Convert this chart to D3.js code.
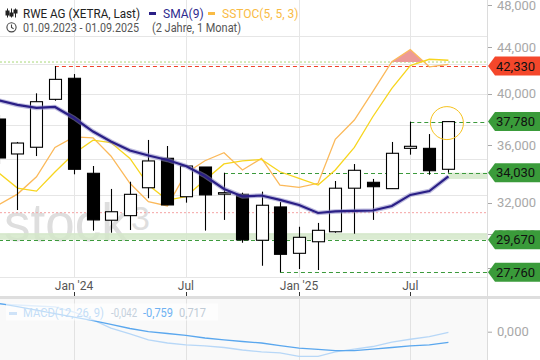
<!DOCTYPE html>
<html>
<head>
<meta charset="utf-8">
<script src="https://cdn.jsdelivr.net/npm/d3@7"></script>
<style>
  body { margin: 0; background: #fff; }
  svg { display: block; font-family: Roboto, Arial, sans-serif; }
</style>
</head>
<body>
<svg id="chart" width="540" height="360"></svg>
<script>
// RWE AG (XETRA, Last), monthly candles, prices in EUR
const months = ["2023-09", "2023-10", "2023-11", "2023-12", "2024-01", "2024-02", "2024-03", "2024-04",
  "2024-05", "2024-06", "2024-07", "2024-08", "2024-09", "2024-10", "2024-11", "2024-12", "2025-01",
  "2025-02", "2025-03", "2025-04", "2025-05", "2025-06", "2025-07", "2025-08", "2025-09"];
const opens  = [37.98, 35.36, 35.85, 39.54, 41.28, 33.99, 30.88, 31.17, 33.00, 35.05, 32.40, 34.43, 32.65,
  32.56, 29.64, 31.73, 28.86, 29.55, 30.16, 32.97, 33.37, 32.94, 35.77, 35.77, 34.27];
const highs  = [38.30, 36.24, 40.03, 42.33, 41.64, 34.50, 32.92, 33.41, 36.39, 35.94, 34.50, 34.43, 34.03,
  32.67, 32.74, 32.05, 30.47, 30.71, 33.46, 34.64, 33.60, 36.24, 37.78, 36.83, 37.80];
const lows   = [34.64, 31.53, 35.21, 39.43, 33.92, 30.23, 30.10, 30.27, 32.30, 31.86, 32.01, 30.23, 30.90,
  29.49, 28.14, 27.76, 27.95, 27.89, 30.10, 30.04, 30.90, 32.94, 35.31, 33.89, 34.03];
const closes = [35.07, 36.16, 39.35, 41.19, 34.27, 30.90, 31.42, 32.56, 34.86, 31.86, 34.50, 32.52, 32.67,
  29.66, 31.84, 28.80, 29.82, 30.25, 32.97, 34.20, 33.07, 35.41, 35.92, 34.17, 37.78];

const sma9 = [39.45, 39.09, 38.85, 38.93, 38.06, 37.02, 36.27, 35.61, 35.25, 34.93, 34.50, 33.80, 32.92,
  32.42, 32.48, 32.19, 31.86, 31.34, 31.44, 31.47, 31.50, 31.79, 32.52, 32.78, 33.77];

// SSTOC(5, 5, 3)
const stochK = [23.2, 27.4, 34.3, 46.0, 50.2, 49.8, 42.6, 31.7, 24.4, 22.7, 35.7, 40.7, 43.9, 37.0, 41.6,
  31.0, 30.1, 31.7, 49.2, 56.9, 68.2, 80.1, 85.0, 78.1, 79.1];
const stochD = [35.8, 29.8, 28.6, 36.2, 43.6, 48.9, 47.9, 41.6, 31.0, 25.0, 26.4, 33.0, 39.4, 40.6, 41.2,
  36.3, 33.7, 31.0, 37.0, 46.0, 58.2, 69.5, 78.6, 81.1, 80.7];
const stochLevels = [80, 20];

// MACD(12, 26, 9)
const macdLine = [1.98, 1.91, 1.84, 1.77, 1.41, 0.84, 0.26, -0.16, -0.59, -0.81, -0.95, -1.02, -1.13,
  -1.31, -1.45, -1.52, -1.77, -1.77, -1.45, -1.24, -1.06, -0.74, -0.54, -0.36, -0.042];
const macdSignal = [2.02, 1.80, 1.55, 1.30, 1.05, 0.80, 0.52, 0.23, 0.01, -0.13, -0.27, -0.45, -0.59,
  -0.70, -0.81, -0.99, -1.17, -1.27, -1.35, -1.35, -1.24, -1.13, -1.02, -0.95, -0.759];
const macdHist = 0.717;

// marked levels and zones
const levels = [42.33, 37.78, 34.03, 29.67, 27.76];
const levelFrom = ["2023-12", "2025-07", "2024-09", "2023-09", "2024-12"];
const zoneLow = [29.67, 33.60];
const zoneHigh = [30.08, 34.03];
const zoneFrom = ["2023-09", "2025-09"];

const priceTicks = [48, 44, 40, 36, 32, 30, 28];
const priceGrid = [27.5, 30, 32.5, 35, 37.5, 40, 42.5, 45];
const xTickDates = ["2024-01", "2024-07", "2025-01", "2025-07"];
const xTickLabels = ["Jan '24", "Jul", "Jan '25", "Jul"];

const parseMonth = d3.utcParse("%Y-%m");
const de = d3.formatLocale({ decimal: ",", thousands: ".", grouping: [3], currency: ["", " €"], minus: "-" });
const fmt3 = de.format(".3f");

const svg = d3.select("#chart");
const plotRight = 487;
const plotBottom = 277.5;

const x = d3.scaleUtc()
  .domain([parseMonth("2024-01"), parseMonth("2025-07")])
  .range([74, 410.3]);
const y = d3.scaleLog().domain([26.447, 48.447]).range([296, 0]);
const yStoch = d3.scaleLinear().domain([0, 100]).range([262.9, 11.8]);
const yMacd = d3.scaleLinear().domain([-2, 2]).range([359.64, 303.76]);

const candles = months.map((m, i) => ({
  date: parseMonth(m), o: opens[i], h: highs[i], l: lows[i], c: closes[i]
}));

const defs = svg.append("defs");
defs.append("clipPath").attr("id", "plot-clip")
  .append("rect").attr("x", 0).attr("y", 0).attr("width", plotRight).attr("height", plotBottom);
defs.append("clipPath").attr("id", "over80")
  .append("rect").attr("x", 0).attr("y", 0).attr("width", plotRight).attr("height", yStoch(80));
defs.append("clipPath").attr("id", "macd-clip")
  .append("rect").attr("x", 0).attr("y", 299).attr("width", plotRight).attr("height", 61);

// ---- grid ----
const grid = svg.append("g");
grid.selectAll(".hgrid")
  .data(priceGrid)
  .enter()
  .append("line")
  .attr("x1", 0).attr("x2", plotRight)
  .attr("y1", d => Math.round(y(d)) + 0.5).attr("y2", d => Math.round(y(d)) + 0.5)
  .attr("stroke", "#e6e6e6");
grid.selectAll(".vgrid")
  .data(xTickDates)
  .enter()
  .append("line")
  .attr("x1", d => Math.round(x(parseMonth(d))) + 0.5)
  .attr("x2", d => Math.round(x(parseMonth(d))) + 0.5)
  .attr("y1", 0).attr("y2", plotBottom)
  .attr("stroke", "#e6e6e6");

// watermark
const wm = svg.append("g").attr("fill", "#dedede").attr("font-family", "Arial, 'Liberation Sans', sans-serif");
wm.append("text").attr("x", 4).attr("y", 241).attr("font-size", 53).text("stock");
wm.append("text").attr("x", 131).attr("y", 230).attr("font-size", 34).text("3");

const plot = svg.append("g").attr("clip-path", "url(#plot-clip)");

// zones
plot.selectAll(".zone")
  .data(zoneLow)
  .enter()
  .append("rect")
  .attr("x", (d, i) => x(parseMonth(zoneFrom[i])))
  .attr("width", (d, i) => plotRight - x(parseMonth(zoneFrom[i])))
  .attr("y", (d, i) => y(zoneHigh[i]))
  .attr("height", (d, i) => y(d) - y(zoneHigh[i]))
  .attr("fill", "#d3e8c9")
  .attr("opacity", 0.85);

// stochastic levels
plot.selectAll(".stlevel")
  .data(stochLevels)
  .enter()
  .append("line")
  .attr("x1", 0).attr("x2", plotRight)
  .attr("y1", d => yStoch(d)).attr("y2", d => yStoch(d))
  .attr("stroke", d => (d === 80 ? "#a8d878" : "#f5a3a3"))
  .attr("stroke-dasharray", "2,2");

// level lines
plot.selectAll(".level")
  .data(levels)
  .enter()
  .append("line")
  .attr("x1", (d, i) => x(parseMonth(levelFrom[i])))
  .attr("x2", plotRight)
  .attr("y1", d => Math.round(y(d)) + 0.5).attr("y2", d => Math.round(y(d)) + 0.5)
  .attr("stroke", (d, i) => (i === 0 ? "#f0432c" : "#3c9a3c"))
  .attr("stroke-dasharray", "4,3");

// stochastic over 80 fill
const stData = candles.map((c, i) => ({ date: c.date, k: stochK[i], d: stochD[i] }));
plot.append("path")
  .datum(stData)
  .attr("clip-path", "url(#over80)")
  .attr("fill", "#ec9a98")
  .attr("d", d3.area().x(d => x(d.date)).y0(yStoch(80)).y1(d => yStoch(d.k)));

plot.append("path")
  .datum(stData)
  .attr("fill", "none")
  .attr("stroke", "#fbb95a")
  .attr("stroke-width", 1.3)
  .attr("d", d3.line().x(d => x(d.date)).y(d => yStoch(d.k)));
plot.append("path")
  .datum(stData)
  .attr("fill", "none")
  .attr("stroke", "#f7d51e")
  .attr("stroke-width", 1.3)
  .attr("d", d3.line().x(d => x(d.date)).y(d => yStoch(d.d)));

// candles
const candle = plot.selectAll(".candle")
  .data(candles)
  .enter()
  .append("g")
  .attr("class", "candle")
  .attr("transform", d => `translate(${Math.round(x(d.date)) + 0.5},0)`);
candle.append("line")
  .attr("y1", d => y(d.h)).attr("y2", d => y(d.l))
  .attr("stroke", "#000").attr("stroke-width", 1.1);
candle.append("rect")
  .attr("x", -6).attr("width", 12)
  .attr("y", d => y(Math.max(d.o, d.c)))
  .attr("height", d => Math.max(1.5, Math.abs(y(d.o) - y(d.c))))
  .attr("fill", d => (d.c >= d.o ? "#fff" : "#000"))
  .attr("stroke", "#000").attr("stroke-width", 1.1);

// SMA(9)
const smaLine = d3.line().x((d, i) => x(candles[i].date)).y(d => y(d));
plot.append("path").datum(sma9)
  .attr("fill", "none").attr("stroke", "#8a86c4").attr("stroke-opacity", 0.55)
  .attr("stroke-width", 4.5).attr("d", smaLine);
plot.append("path").datum(sma9)
  .attr("fill", "none").attr("stroke", "#2a1f86")
  .attr("stroke-width", 2.2).attr("d", smaLine);

// highlight of last close
const last = candles[candles.length - 1];
plot.append("circle")
  .attr("cx", x(last.date) - 1.5).attr("cy", y(last.c) + 1.5).attr("r", 16.5)
  .attr("fill", "none").attr("stroke", "#f6c21d").attr("stroke-width", 1);

// ---- x axis ----
const xAxis = svg.append("g");
xAxis.selectAll(".xlabel")
  .data(xTickDates)
  .enter()
  .append("text")
  .attr("x", d => x(parseMonth(d)))
  .attr("y", 289.5)
  .attr("text-anchor", "middle")
  .attr("font-size", 12)
  .attr("fill", "#555")
  .text((d, i) => xTickLabels[i]);
xAxis.selectAll(".xtick")
  .data(xTickDates)
  .enter()
  .append("line")
  .attr("x1", d => Math.round(x(parseMonth(d))) + 0.5)
  .attr("x2", d => Math.round(x(parseMonth(d))) + 0.5)
  .attr("y1", 292).attr("y2", 296)
  .attr("stroke", "#333");

// ---- MACD panel ----
svg.append("rect").attr("x", 0).attr("y", 299).attr("width", plotRight).attr("height", 61).attr("fill", "#f9f9f9");
svg.selectAll(".mvgrid")
  .data(xTickDates)
  .enter()
  .append("line")
  .attr("x1", d => Math.round(x(parseMonth(d))) + 0.5)
  .attr("x2", d => Math.round(x(parseMonth(d))) + 0.5)
  .attr("y1", 299).attr("y2", 360)
  .attr("stroke", "#e2e2e2");
const macdG = svg.append("g").attr("clip-path", "url(#macd-clip)");
const mLine = d3.line().x((d, i) => x(candles[i].date)).y(d => yMacd(d));
macdG.append("path").datum(macdLine)
  .attr("fill", "none").attr("stroke", "#b7d7f7").attr("stroke-width", 1.3).attr("d", mLine);
macdG.append("path").datum(macdSignal)
  .attr("fill", "none").attr("stroke", "#5aa7ee").attr("stroke-width", 1.3).attr("d", mLine);

const macdLegend = svg.append("g").attr("font-size", 12);
macdLegend.append("rect").attr("x", 6).attr("y", 303.5).attr("width", 212).attr("height", 17)
  .attr("fill", "#fff").attr("opacity", 0.6);
macdLegend.append("rect").attr("x", 9).attr("y", 312).attr("width", 8).attr("height", 3).attr("fill", "#cfe3f8");
macdLegend.append("text").attr("x", 23).attr("y", 316.5).attr("fill", "#c4ddf7")
  .attr("textLength", 81).attr("lengthAdjust", "spacingAndGlyphs").text("MACD(12, 26, 9)");
macdLegend.append("text").attr("x", 111).attr("y", 316.5).attr("fill", "#c4d0dc")
  .attr("textLength", 26).attr("lengthAdjust", "spacingAndGlyphs")
  .text(fmt3(macdLine[macdLine.length - 1]));
macdLegend.append("text").attr("x", 143).attr("y", 316.5).attr("fill", "#6fb2f2")
  .attr("textLength", 30).attr("lengthAdjust", "spacingAndGlyphs")
  .text(fmt3(macdSignal[macdSignal.length - 1]));
macdLegend.append("text").attr("x", 179).attr("y", 316.5).attr("fill", "#c0cbd6")
  .attr("textLength", 27).attr("lengthAdjust", "spacingAndGlyphs").text(fmt3(macdHist));

// separator and right axis line
svg.append("rect").attr("x", 0).attr("y", 296).attr("width", 540).attr("height", 3).attr("fill", "#dedede");
svg.append("line").attr("x1", plotRight + 0.5).attr("x2", plotRight + 0.5).attr("y1", 0).attr("y2", 360)
  .attr("stroke", "#dcdcdc");

// ---- right axis ----
const yAxis = svg.append("g").attr("font-size", 13).attr("fill", "#a8a8a8");
yAxis.selectAll(".ytick")
  .data(priceTicks)
  .enter()
  .append("line")
  .attr("x1", 488).attr("x2", 492)
  .attr("y1", d => Math.round(y(d)) + 0.5).attr("y2", d => Math.round(y(d)) + 0.5)
  .attr("stroke", "#a8a8a8");
yAxis.selectAll(".ylabel")
  .data(priceTicks)
  .enter()
  .append("text")
  .attr("x", 497)
  .attr("y", d => Math.max(y(d) + 4.5, 10))
  .text(d => fmt3(d));
yAxis.append("line").attr("x1", 488).attr("x2", 492).attr("y1", yMacd(0) + 0.5).attr("y2", yMacd(0) + 0.5)
  .attr("stroke", "#a8a8a8");
yAxis.append("text").attr("x", 497).attr("y", yMacd(0) + 4.5).text(fmt3(0));

// price tags
const tags = svg.selectAll(".tag")
  .data(levels)
  .enter()
  .append("g")
  .attr("transform", d => `translate(0,${y(d)})`);
tags.append("path")
  .attr("d", "M488,0 L495,-9.5 L540,-9.5 L540,9.5 L495,9.5 Z")
  .attr("fill", (d, i) => (i === 0 ? "#f4472b" : "#3a9b3a"));
tags.append("text")
  .attr("x", 496).attr("y", 4.6)
  .attr("font-size", 13).attr("fill", "#111")
  .text(d => fmt3(d));

// ---- header ----
const header = svg.append("g").attr("font-size", 12);
const icon = header.append("g").attr("stroke", "#222").attr("stroke-width", 1);
[[7.5, 11, 15], [11.5, 13, 16], [15.5, 10, 13]].forEach(c => {
  icon.append("line").attr("x1", c[0]).attr("x2", c[0]).attr("y1", 8.5).attr("y2", 17.5);
  icon.append("rect").attr("x", c[0] - 1.5).attr("y", c[1]).attr("width", 3).attr("height", c[2] - c[1])
    .attr("fill", "#222");
});
header.append("text").attr("x", 23).attr("y", 17.5).attr("fill", "#222")
  .attr("textLength", 117).attr("lengthAdjust", "spacingAndGlyphs").text("RWE AG (XETRA, Last)");
header.append("rect").attr("x", 149).attr("y", 12).attr("width", 7).attr("height", 3).attr("fill", "#2a1f86");
header.append("text").attr("x", 163).attr("y", 17.5).attr("fill", "#2e2a8e").text("SMA(9)");
header.append("rect").attr("x", 208).attr("y", 12).attr("width", 7).attr("height", 3).attr("fill", "#f9bb45");
header.append("text").attr("x", 222).attr("y", 17.5).attr("fill", "#f9bb45").text("SSTOC(5, 5, 3)");

const clock = header.append("g").attr("stroke", "#444").attr("fill", "none").attr("stroke-width", 1.1);
clock.append("circle").attr("cx", 11.5).attr("cy", 27.3).attr("r", 4.6);
clock.append("path").attr("d", "M11.5,24.6 L11.5,27.5 L13.6,28.8");
header.append("text").attr("x", 23).attr("y", 31.5).attr("fill", "#555")
  .attr("textLength", 116).attr("lengthAdjust", "spacingAndGlyphs")
  .text("01.09.2023 - 01.09.2025");
header.append("text").attr("x", 152).attr("y", 31.5).attr("fill", "#555")
  .attr("textLength", 89).attr("lengthAdjust", "spacingAndGlyphs")
  .text("(2 Jahre, 1 Monat)");
</script>
</body>
</html>
